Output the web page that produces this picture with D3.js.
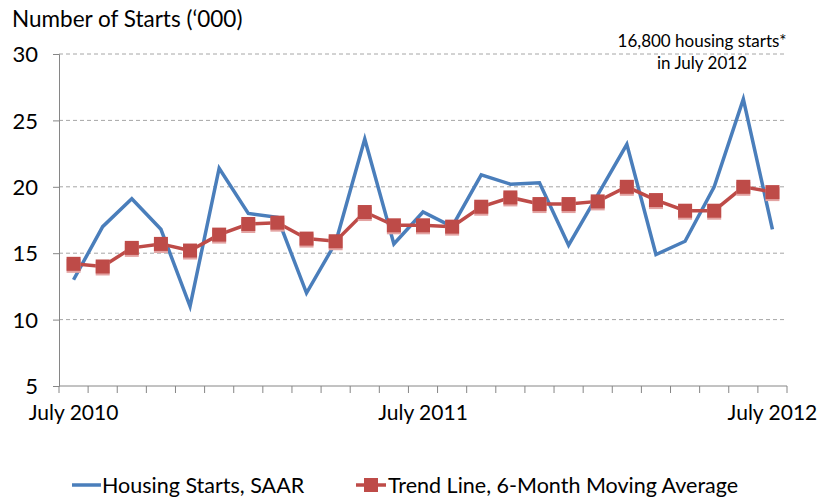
<!DOCTYPE html>
<html>
<head>
<meta charset="utf-8">
<script src="https://cdn.jsdelivr.net/npm/d3@7"></script>
<style>
  html, body { margin: 0; padding: 0; background: #fff; }
  svg { display: block; }
  text { font-family: Lato, "Open Sans", sans-serif; fill: #000; }
</style>
</head>
<body>
<svg id="chart" width="822" height="502"></svg>
<script>
const months = ["Jul 2010","Aug 2010","Sep 2010","Oct 2010","Nov 2010","Dec 2010",
  "Jan 2011","Feb 2011","Mar 2011","Apr 2011","May 2011","Jun 2011",
  "Jul 2011","Aug 2011","Sep 2011","Oct 2011","Nov 2011","Dec 2011",
  "Jan 2012","Feb 2012","Mar 2012","Apr 2012","May 2012","Jun 2012","Jul 2012"];
const housingStarts = [13.0,17.0,19.1,16.8,11.0,21.4,18.0,17.7,12.0,15.8,23.6,15.7,
  18.1,17.0,20.9,20.2,20.3,15.6,19.4,23.2,14.9,15.9,20.0,26.6,16.8];
const trendLine = [14.2,14.0,15.4,15.7,15.2,16.4,17.2,17.3,16.1,15.9,18.1,17.1,
  17.1,17.0,18.5,19.2,18.7,18.7,18.9,20.0,19.0,18.2,18.2,20.0,19.6];
const yTicks = [5,10,15,20,25,30];
const xLabels = {"Jul 2010":"July 2010","Jul 2011":"July 2011","Jul 2012":"July 2012"};
const yTitle = "Number of Starts (\u2018000)";
const annotation = ["16,800 housing starts*","in July 2012"];
const seriesNames = ["Housing Starts, SAAR","Trend Line, 6-Month Moving Average"];

const blue = "#4A7EBB", red = "#BE4B48";
const svg = d3.select("#chart");
const m = {left: 59, right: 787, top: 54, bottom: 386};

const x = d3.scaleBand().domain(months).range([m.left, m.right]);
const y = d3.scaleLinear().domain([5,30]).range([m.bottom, m.top]);
const cx = d => x(d) + x.bandwidth()/2;

// gridlines
svg.append("g").selectAll("line").data(yTicks.filter(t => t > 5)).join("line")
  .attr("x1", m.left).attr("x2", m.right)
  .attr("y1", d => y(d)).attr("y2", d => y(d))
  .attr("stroke", "#a6a6a6").attr("stroke-width", 1).attr("stroke-dasharray", "4,3");

// y axis
const yAxis = svg.append("g").attr("transform", `translate(${m.left},0)`)
  .call(d3.axisLeft(y).tickValues(yTicks).tickSize(6).tickPadding(15));
yAxis.select(".domain").attr("stroke", "#868686");
yAxis.selectAll(".tick line").attr("stroke", "#868686");
yAxis.selectAll(".tick text").attr("font-size", 22).attr("font-family", "Lato").attr("fill", "#000").attr("dy", "0.35em");

// x axis (ticks between categories)
const boundaries = months.map(d => x(d)).concat([m.right]);
const xAxisG = svg.append("g");
xAxisG.append("line").attr("x1", m.left).attr("x2", m.right)
  .attr("y1", m.bottom).attr("y2", m.bottom).attr("stroke", "#868686");
xAxisG.selectAll("line.t").data(boundaries).join("line").attr("class","t")
  .attr("x1", d => d).attr("x2", d => d).attr("y1", m.bottom).attr("y2", m.bottom + 7)
  .attr("stroke", "#868686");
xAxisG.selectAll("text").data(months.filter(d => xLabels[d])).join("text")
  .attr("x", d => cx(d)).attr("y", 420).attr("text-anchor", "middle")
  .attr("font-size", 21).text(d => xLabels[d]);

// title
svg.append("text").attr("x", 12).attr("y", 27).attr("font-size", 22.5).text(yTitle);

// annotation
svg.append("g").selectAll("text").data(annotation).join("text")
  .attr("x", 702).attr("y", (d,i) => 47 + i*22).attr("text-anchor", "middle")
  .attr("font-size", 17).text(d => d);

// lines
const line = d3.line().x((d,i) => cx(months[i])).y(d => y(d));
svg.append("path").datum(housingStarts).attr("d", line)
  .attr("fill", "none").attr("stroke", blue).attr("stroke-width", 3.5).attr("stroke-linejoin", "miter");
svg.append("path").datum(trendLine).attr("d", line)
  .attr("fill", "none").attr("stroke", red).attr("stroke-width", 3.5);

// markers
const ms = 14;
const mk = svg.append("g").selectAll("g").data(trendLine).join("g")
  .attr("transform", (d,i) => `translate(${cx(months[i])},${y(d)})`);
mk.append("rect").attr("x", -ms/2).attr("y", -ms/2 + 2).attr("width", ms).attr("height", ms)
  .attr("fill", "#E3A3A2");
mk.append("rect").attr("x", -ms/2).attr("y", -ms/2).attr("width", ms).attr("height", ms)
  .attr("fill", red);

// legend
const lg = svg.append("g");
lg.append("line").attr("x1", 72).attr("x2", 101).attr("y1", 485).attr("y2", 485)
  .attr("stroke", blue).attr("stroke-width", 3.5);
lg.append("text").attr("x", 102).attr("y", 493).attr("font-size", 21.5).text(seriesNames[0]);
lg.append("line").attr("x1", 356).attr("x2", 386).attr("y1", 485).attr("y2", 485)
  .attr("stroke", red).attr("stroke-width", 3.5);
lg.append("rect").attr("x", 364).attr("y", 478).attr("width", 14).attr("height", 14).attr("fill", red);
lg.append("text").attr("x", 388).attr("y", 493).attr("font-size", 21.5).text(seriesNames[1]);
</script>
</body>
</html>
